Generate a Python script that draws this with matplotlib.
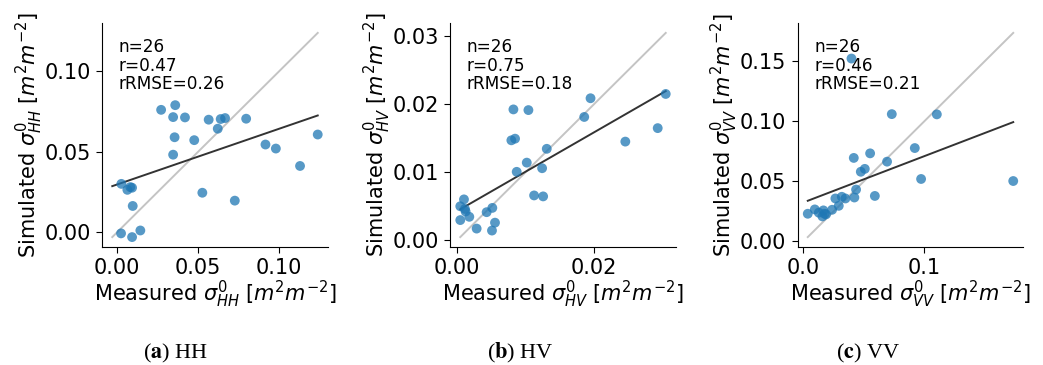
import numpy as np
import matplotlib.pyplot as plt

# measured / simulated backscatter
hh_meas = [0.0025, 0.0027, 0.0064, 0.0082, 0.0093, 0.0097, 0.0093, 0.0144, 0.0272, 0.0359,
           0.0346, 0.0419, 0.0355, 0.0346, 0.0476, 0.0565, 0.0639, 0.0666, 0.0621, 0.0796,
           0.0526, 0.0726, 0.0915, 0.0979, 0.1128, 0.1237]
hh_sim = [-0.0006, 0.0301, 0.0264, 0.0281, 0.0277, 0.0164, -0.0029, 0.0012, 0.0760, 0.0789,
          0.0715, 0.0713, 0.0590, 0.0482, 0.0572, 0.0699, 0.0703, 0.0709, 0.0643, 0.0705,
          0.0246, 0.0197, 0.0545, 0.0520, 0.0412, 0.0607]

hv_meas = [0.00044, 0.00098, 0.00112, 0.00122, 0.00176, 0.00044, 0.00283, 0.00429, 0.00512, 0.00551,
           0.00507, 0.0079, 0.00844, 0.00868, 0.0082, 0.01039, 0.01015, 0.01122, 0.01254, 0.01239,
           0.01307, 0.01854, 0.01946, 0.02454, 0.02927, 0.03044]
hv_sim = [0.00497, 0.00598, 0.00458, 0.0042, 0.00342, 0.00294, 0.00169, 0.0041, 0.00473, 0.00256,
          0.0014, 0.01466, 0.0149, 0.01003, 0.0192, 0.0191, 0.01138, 0.00656, 0.00642, 0.01056,
          0.01341, 0.01809, 0.02084, 0.01447, 0.01645, 0.02147]

vv_meas = [0.0036, 0.0094, 0.0127, 0.0157, 0.0174, 0.0187, 0.0165, 0.0237, 0.0264, 0.0292,
           0.0317, 0.0347, 0.0421, 0.0435, 0.0397, 0.0416, 0.0474, 0.0507, 0.0551, 0.0590,
           0.0691, 0.0730, 0.0920, 0.0972, 0.1102, 0.1733]
vv_sim = [0.0230, 0.0266, 0.0239, 0.0208, 0.0230, 0.0225, 0.0258, 0.0263, 0.0357, 0.0296,
          0.0371, 0.0357, 0.0365, 0.0431, 0.1520, 0.0694, 0.0579, 0.0603, 0.0732, 0.0378,
          0.0663, 0.1058, 0.0776, 0.0519, 0.1056, 0.0502]

pols = ['HH', 'HV', 'VV']
stats = ['n=26\nr=0.47\nrRMSE=0.26', 'n=26\nr=0.75\nrRMSE=0.18', 'n=26\nr=0.46\nrRMSE=0.21']
captions = ['a', 'b', 'c']
ticks = [[0.0, 0.05, 0.10], [0.0, 0.02], [0.0, 0.1]]
yticks = [[0.0, 0.05, 0.10], [0.0, 0.01, 0.02, 0.03], [0.0, 0.05, 0.10, 0.15]]

fig = plt.figure(figsize=(10.43, 3.65), dpi=100)
lefts = [102, 450, 797.5]

for i, (meas, sim) in enumerate([(hh_meas, hh_sim), (hv_meas, hv_sim), (vv_meas, vv_sim)]):
    x = np.array(meas)
    y = np.array(sim)
    ax = fig.add_axes([lefts[i] / 1043, 1 - 247.3 / 365, 226 / 1043, 224.6 / 365])

    lo = min(x.min(), y.min())
    hi = max(x.max(), y.max())
    pad = 0.05 * (hi - lo)

    ax.scatter(x, y, s=50, color='#1f77b4', alpha=0.75, edgecolors='none', zorder=3)
    ax.plot([lo, hi], [lo, hi], color='#c4c4c4', lw=1.4, zorder=1)
    k, b = np.polyfit(x, y, 1)
    ax.plot([lo, hi], [k * lo + b, k * hi + b], color='#333333', lw=1.4, zorder=2)

    ax.set_xlim(lo - pad, hi + pad)
    ax.set_ylim(lo - pad, hi + pad)
    ax.set_xticks(ticks[i])
    ax.set_yticks(yticks[i])
    ax.tick_params(labelsize=15, length=4.5)
    for s in ['top', 'right']:
        ax.spines[s].set_visible(False)

    p = pols[i]
    ax.set_xlabel(r'Measured $\sigma^0_{%s}$ [$m^2m^{-2}$]' % p, fontsize=15, labelpad=0)
    ax.set_ylabel(r'Simulated $\sigma^0_{%s}$ [$m^2m^{-2}$]' % p, fontsize=15, labelpad=0)
    ax.text(0.075, 0.93, stats[i], transform=ax.transAxes, va='top', ha='left',
            fontsize=12.2, linespacing=1.02)

    cx = [175, 520, 868][i] / 1043
    fig.text(cx, 1 - 353 / 365, r'($\mathbf{%s}$) %s' % (captions[i], p), ha='center', va='center',
             fontsize=16, family='Liberation Serif', math_fontfamily='stix')

fig.savefig('out.png', dpi=100)
